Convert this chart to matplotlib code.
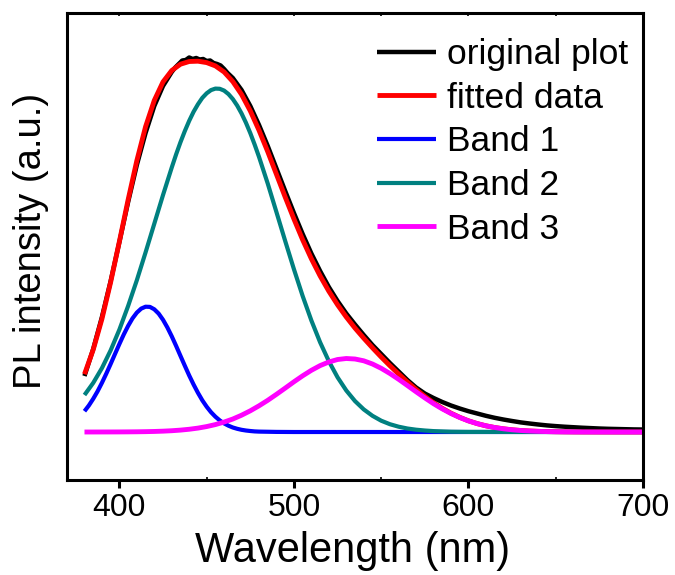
import matplotlib
matplotlib.use('Agg')
import matplotlib.pyplot as plt
from matplotlib.ticker import MultipleLocator

plt.rcParams['font.family'] = ['Liberation Sans', 'DejaVu Sans']

# wavelength grid (nm) for the broad curves
wl = list(range(380, 705, 5))

# Band 1: 2.5 nm steps up to 480 nm, then flat
wl_b1 = [380 + 2.5 * i for i in range(41)] + [490, 500, 700]
band1 = [20.8, 26.5, 33.2, 40.7, 49.2, 58.4, 68.1, 78.1, 88.0, 97.5,
         106.1, 113.6, 119.4, 123.4, 125.3, 125.1, 122.7, 118.4, 112.2, 104.5,
         95.7, 86.1, 76.1, 66.2, 56.5, 47.5, 39.2, 31.7, 25.3, 19.8,
         15.3, 11.6, 8.6, 6.3, 4.5, 3.2, 2.2, 1.5, 1.0, 0.6,
         0.4, 0.1, 0.0, 0.0]

# Band 2: finer steps around the peak
wl_b2 = (list(range(380, 430, 5)) + [430 + 2.5 * i for i in range(21)]
         + list(range(485, 605, 5)) + [700])
band2 = [37.0, 49.1, 63.9, 81.7, 102.4, 126.0, 151.8, 179.6, 208.3, 237.0,
         264.5, 277.6, 289.8, 301.0, 311.2, 320.2, 327.7, 334.1, 338.7, 341.9,
         343.4, 343.2, 341.4, 337.9, 332.9, 326.4, 318.5, 309.3, 298.9, 287.4,
         275.1,
         248.4, 219.8, 191.0, 162.8, 136.0, 111.5, 89.7, 70.8, 54.7, 41.5,
         30.9, 22.6, 16.2, 11.3, 7.8, 5.3, 3.5, 2.3, 1.5, 0.9,
         0.6, 0.3, 0.2, 0.1, 0.0]

band3 = [0.0, 0.01, 0.03, 0.05, 0.08, 0.14, 0.22, 0.35, 0.55, 0.85,
         1.28, 1.9, 2.75, 3.9, 5.44, 7.43, 9.95, 13.0, 16.8, 21.2,
         26.2, 31.7, 37.7, 43.9, 50.2, 56.2, 61.7, 66.4, 70.0, 72.5,
         73.5, 73.0, 71.2, 68.0, 63.7, 58.5, 52.7, 46.5, 40.2, 34.1,
         28.3, 23.1, 18.5, 14.5, 11.1, 8.4, 6.2, 4.5, 3.2, 2.2,
         1.5, 1.0, 0.66, 0.42, 0.27, 0.17, 0.1, 0.06, 0.04, 0.02,
         0.01, 0.0, 0.0, 0.0, 0.0]

fitted = [57.8, 82.3, 113.1, 149.9, 190.5, 232.2, 271.4, 305.3, 331.6, 350.1,
          361.5, 367.8, 370.5, 370.8, 369.4, 366.1, 360.0, 350.4, 337.5, 321.1,
          301.7, 280.3, 257.6, 234.9, 213.0, 192.2, 173.2, 156.1, 140.8, 127.2,
          115.0, 103.9, 93.8, 84.2, 75.0, 66.3, 58.0, 50.0, 42.5, 35.6,
          29.2, 23.7, 18.8, 14.7, 11.2, 8.4, 6.2, 4.5, 3.2, 2.2,
          1.5, 1.0, 0.66, 0.42, 0.27, 0.17, 0.1, 0.06, 0.04, 0.02,
          0.01, 0.0, 0.0, 0.0, 0.0]

# measured spectrum (finer sampling around the noisy peak)
wl_orig = ([380, 385, 390, 395, 400, 405, 410, 415, 420, 425, 430]
           + list(range(432, 463, 2))
           + list(range(465, 705, 5)))
original = [56, 83, 115, 151, 190, 230, 267, 299, 326, 346, 360,
            364.5, 368, 371.5, 372, 374.5, 373, 374, 372.5, 373, 371,
            371.5, 369, 368, 366.5, 363, 359,
            354, 342, 326, 307, 286, 263.5, 241, 219, 198, 178.5,
            161, 145, 131, 118.5, 107.5, 97, 87, 78, 69, 60.5,
            52, 44.5, 38.5, 34, 30, 26.5, 23.5, 20.8, 18.5, 16.2,
            14.2, 12.5, 11, 9.6, 8.5, 7.5, 6.6, 5.9, 5.3, 4.8,
            4.3, 3.9, 3.5, 3.2, 3.0, 2.8, 2.6, 2.5]

fig = plt.figure(figsize=(6.75, 5.75), dpi=100)
ax = fig.add_axes([0.0993, 0.1652, 0.8533, 0.8122])

kw = dict(solid_joinstyle='round', solid_capstyle='butt')
ax.plot(wl_orig, original, color='black', lw=3.2, label='original plot', **kw)
ax.plot(wl, fitted, color='#ff0000', lw=3.5, label='fitted data', **kw)
ax.plot(wl_b1, band1, color='#0000ff', lw=3.0, label='Band 1', **kw)
ax.plot(wl_b2, band2, color='#008080', lw=3.0, label='Band 2', **kw)
ax.plot(wl, band3, color='#ff00ff', lw=3.5, label='Band 3', **kw)

ax.set_xlim(370, 700)
ax.set_ylim(-48, 419)
ax.set_xticks([400, 500, 600, 700])
ax.xaxis.set_minor_locator(MultipleLocator(50))
ax.set_yticks([])

for s in ax.spines.values():
    s.set_linewidth(2.2)

ax.tick_params(axis='x', which='major', direction='out', length=6, width=2.2,
               labelsize=23, pad=3)
ax.tick_params(axis='x', which='minor', direction='in', length=2, width=1.2)

top = ax.secondary_xaxis('top')
top.set_xticks([400, 450, 500, 550, 600, 650, 700])
top.tick_params(direction='in', length=2, width=1.2, labeltop=False)
top.set_xticklabels([])

ax.set_xlabel('Wavelength (nm)', fontsize=30, va='center')
ax.xaxis.set_label_coords(0.4957, -0.1520)
ax.set_ylabel('PL intensity (a.u.)', fontsize=27.5, va='center')
ax.yaxis.set_label_coords(-0.0625, 0.511)

ax.legend(loc='upper left', bbox_to_anchor=(0.538, 0.946), frameon=False,
          fontsize=25.5, handlelength=1.67, handletextpad=0.31,
          labelspacing=0.30, borderpad=0, borderaxespad=0)

fig.savefig('out.png', dpi=100)
